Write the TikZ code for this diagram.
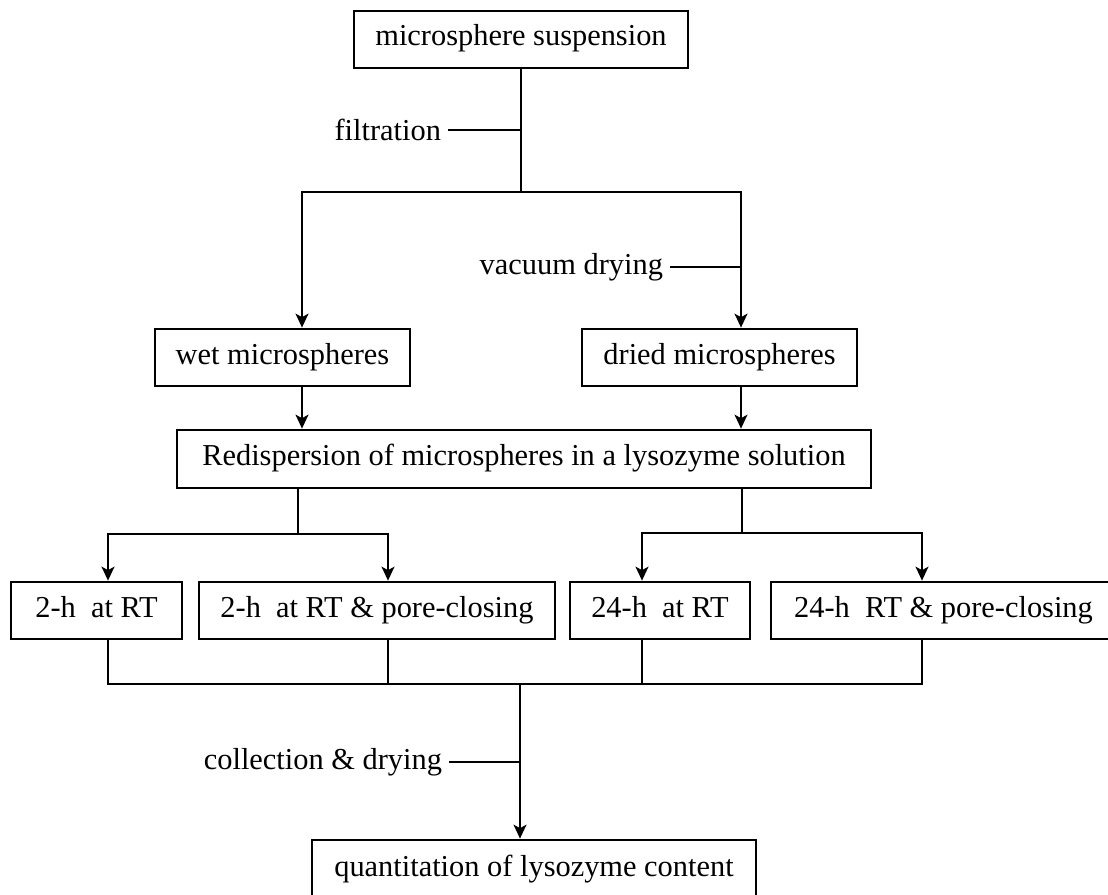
\documentclass[tikz,border=0pt]{standalone}
\usepackage{fontspec}
\setmainfont{Liberation Serif}
\usetikzlibrary{arrows.meta}

\newcommand\popis{\fontsize{15.2}{18}\selectfont}

\begin{document}
\begin{tikzpicture}[x=0.5pt, y=-0.5pt, every node/.style={font=\popis},
  krabice/.style={draw, line width=1.4pt, inner sep=0pt, minimum height=28.5pt,
    text height=0.7em, text depth=0.05em},
  spoj/.style={line width=0.8pt},
  >={Stealth[length=7pt, width=6.5pt, inset=1.8pt]}]
  \useasboundingbox (0,0) rectangle (1108,894);

  % krabice
  \node[krabice, minimum width=167pt] (susp) at (521,39.5) {microsphere suspension};
  \node[krabice, minimum width=127.5pt] (wet) at (282.5,357.5) {wet microspheres};
  \node[krabice, minimum width=137.5pt] (dried) at (719.5,357.5) {dried microspheres};
  \node[krabice, minimum width=347pt, minimum height=29pt] (redis) at (524,459)
    {Redispersion of microspheres in a lysozyme solution};
  \node[krabice, minimum width=85.5pt] (h2) at (96.5,610.5) {2-h\ \ at RT};
  \node[krabice, minimum width=178pt] (h2pc) at (377,610.5) {2-h\ \ at RT \& pore-closing};
  \node[krabice, minimum width=90pt] (h24) at (660,610.5) {24-h\ \ at RT};
  \node[krabice, minimum width=172.5pt] (h24pc) at (943.5,610.5) {24-h\ \ RT \& pore-closing};
  \node[krabice, minimum width=222pt, minimum height=30pt] (quant) at (534,870)
    {quantitation of lysozyme content};

  % popisky kroků
  \node[anchor=east] (filtr) at (448,130) {filtration};
  \node[anchor=east] (vakuum) at (670,267) {vacuum drying};
  \node[anchor=east] (sber) at (449,762) {collection \& drying};

  % body rozvětvení
  \coordinate (vl) at (302,192);
  \coordinate (vp) at (741,192);
  \coordinate (r1) at (298,534);
  \coordinate (r2) at (742,533);
  \coordinate (k1) at (108,534);
  \coordinate (k2) at (388,534);
  \coordinate (k3) at (642,533);
  \coordinate (k4) at (922,533);
  \coordinate (s0) at (520,684);

  % spojnice nahoře
  \draw[spoj] (susp.south) -- (susp.south |- vl);
  \draw[spoj] (filtr.east) -- (filtr.east -| susp.south);
  \draw[spoj, <->] (vl |- wet.north) -- (vl) -- (vp) -- (vp |- dried.north);
  \draw[spoj] (vakuum.east) -- (vakuum.east -| vp);
  \draw[spoj, ->] (wet.south -| vl) -- (redis.north -| vl);
  \draw[spoj, ->] (dried.south -| vp) -- (redis.north -| vp);

  % větvení do čtyř variant
  \draw[spoj] (redis.south -| r1) -- (r1);
  \draw[spoj, <->] (k1 |- h2.north) -- (k1) -- (k2) -- (k2 |- h2pc.north);
  \draw[spoj] (redis.south -| r2) -- (r2);
  \draw[spoj, <->] (k3 |- h24.north) -- (k3) -- (k4) -- (k4 |- h24pc.north);

  % sběr
  \draw[spoj] (h2.south -| k1) -- (k1 |- s0) -- (k4 |- s0) -- (h24pc.south -| k4);
  \draw[spoj] (h2pc.south -| k2) -- (k2 |- s0);
  \draw[spoj] (h24.south -| k3) -- (k3 |- s0);
  \draw[spoj, ->] (s0) -- (s0 |- quant.north);
  \draw[spoj] (sber.east) -- (sber.east -| s0);
\end{tikzpicture}
\end{document}
